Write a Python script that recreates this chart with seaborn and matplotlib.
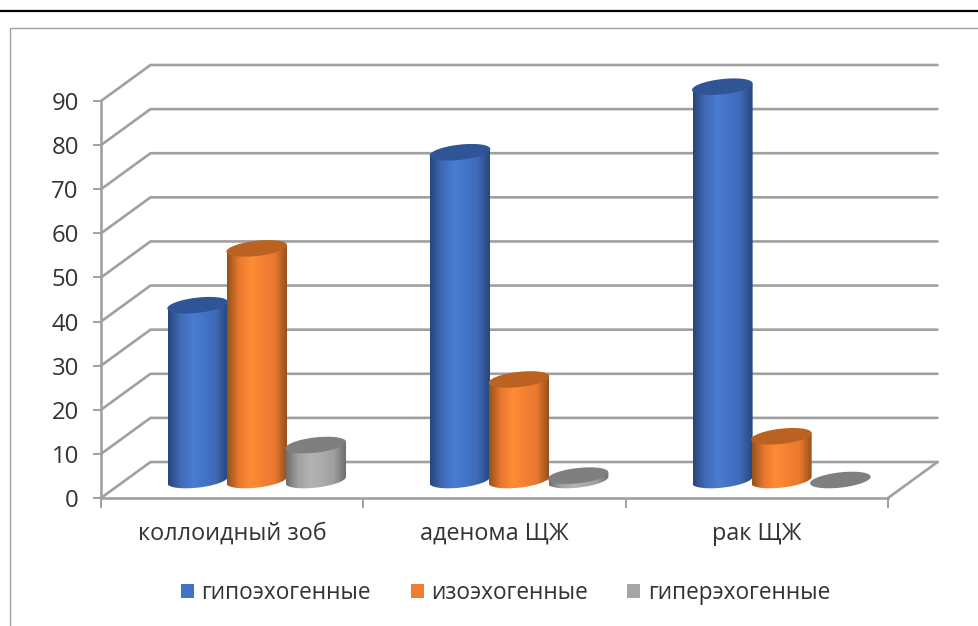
import numpy as np
import pandas as pd
import matplotlib
matplotlib.use("Agg")
import matplotlib.pyplot as plt
import seaborn as sns
from matplotlib.colors import LinearSegmentedColormap
from matplotlib.lines import Line2D
from matplotlib.patches import Patch, Polygon
from matplotlib.transforms import IdentityTransform

categories = ["коллоидный зоб", "аденома ЩЖ", "рак ЩЖ"]
series_names = ["гипоэхогенные", "изоэхогенные", "гиперэхогенные"]
hypo = [40, 75, 90]
iso = [53, 23, 10]
hyper = [8, 1, 0]
y_ticks = list(range(0, 100, 10))

legend_colors = ["#4472c4", "#ed7d31", "#a5a5a5"]
side_colors = [["#27467c", "#3f69b5", "#4a7cd2", "#4474c8", "#3f69b5", "#27467c"],
               ["#96501c", "#e9792e", "#ff8b36", "#f48133", "#e9792e", "#96501c"],
               ["#6e6e6e", "#a0a0a0", "#b3b3b3", "#ababab", "#a0a0a0", "#6e6e6e"]]
top_colors = ["#2f5597", "#bb6222", "#7f7f7f"]
GRID = "#a0a0a0"
TEXT = "#333333"

sns.set_style("white")
plt.rcParams["font.family"] = ["Open Sans", "DejaVu Sans"]

W, H = 979, 626
fig = plt.figure(figsize=(W / 100, H / 100), dpi=100, facecolor="white")


def axes_px(left, right, top, bottom, **kw):
    return fig.add_axes([left / W, 1 - bottom / H, (right - left) / W, (bottom - top) / H], **kw)


df = pd.DataFrame({
    "category": categories * 3,
    "series": np.repeat(series_names, 3),
    "value": hypo + iso + hyper,
})

# front plane: axis, ticks, labels, floor and wall lines
ax = axes_px(101, 888, 101, 498)
sns.barplot(data=df, x="category", y="value", hue="series", order=categories,
            hue_order=series_names, ax=ax, alpha=0, legend=False)
ax.set_xlim(-0.5, 2.5)
ax.set_ylim(0, 90)
ax.set_xlabel("")
ax.set_ylabel("")
ax.patch.set_alpha(0)
for s in ["top", "right"]:
    ax.spines[s].set_visible(False)
for s in ["left", "bottom"]:
    ax.spines[s].set_color(GRID)
    ax.spines[s].set_linewidth(1.9)
ax.set_yticks(y_ticks)
ax.tick_params(axis="y", left=True, length=6, width=1.4, color=GRID, labelsize=17.2,
               labelcolor=TEXT, pad=10)
ax.set_xticks([-0.5, 0.5, 1.5, 2.5], labels=["", "", "", ""])
ax.set_xticks([0, 1, 2], labels=categories, minor=True)
ax.tick_params(axis="x", which="major", bottom=True, length=7, width=1.4, color=GRID)
ax.tick_params(axis="x", which="minor", bottom=False, length=0, labelsize=16.8,
               labelcolor=TEXT, pad=17)

dx = 49.5 / 787 * 3
dy = 36 / 397 * 90
for v in y_ticks:
    ax.plot([-0.5, -0.5 + dx, 2.5 + dx], [v, v + dy, v + dy], color=GRID, lw=1.9,
            clip_on=False, solid_joinstyle="miter", zorder=1)
ax.plot([2.5, 2.5 + dx], [0, dy], color=GRID, lw=1.9, clip_on=False, zorder=1)

# mid-depth plane: cylinders on top of a regular seaborn bar chart
bx = axes_px(125.5, 912.5, 480 - 4.37 * 94, 480 + 4.37 * 6)
bx.patch.set_alpha(0)
sns.barplot(data=df, x="category", y="value", hue="series", order=categories,
            hue_order=series_names, palette=legend_colors, width=0.675, gap=0,
            saturation=1, ax=bx, legend=False)
bx.set_xlim(-0.5, 2.5)
bx.set_ylim(-6, 94)
bx.axis("off")

A, B, TILT = 30.5, 7.6, np.deg2rad(6.5)


def ellipse_pts(cx, cy, t):
    x = A * np.cos(t) * np.cos(TILT) - B * np.sin(t) * np.sin(TILT)
    y = A * np.cos(t) * np.sin(TILT) + B * np.sin(t) * np.cos(TILT)
    return np.column_stack([cx + x, cy + y])


t_right = np.arctan2(-B * np.sin(TILT), A * np.cos(TILT))
t_all = np.linspace(0, 2 * np.pi, 120)
z = 5
items = []
for s, container in enumerate(bx.containers):
    for bar in container:
        items.append((bar.get_x(), s, bar))
for _, s, bar in sorted(items, key=lambda it: it[0]):
    x0, wd, val = bar.get_x(), bar.get_width(), bar.get_height()
    bar.set_visible(False)
    cx, cy0 = bx.transData.transform((x0 + wd / 2, 0))
    _, cy1 = bx.transData.transform((x0, val))
    lower = np.linspace(t_right - np.pi, t_right, 50)
    body = np.vstack([ellipse_pts(cx, cy0, lower),
                      ellipse_pts(cx, cy1, np.array([t_right, t_right + np.pi]))])
    if val > 0:
        poly = Polygon(body, closed=True, transform=IdentityTransform(), fc="none", ec="none")
        bx.add_patch(poly)
        cmap = LinearSegmentedColormap.from_list("side", side_colors[s])
        im = bx.imshow(np.linspace(0, 1, 128)[None, :], extent=[x0, x0 + wd, -4, val + 4],
                       aspect="auto", cmap=cmap, zorder=z, interpolation="bilinear")
        im.set_clip_path(poly)
    bx.add_patch(Polygon(ellipse_pts(cx, cy1, t_all), closed=True, transform=IdentityTransform(),
                         fc=top_colors[s], ec="none", zorder=z + 1, clip_on=False))
    z += 2
bx.set_xlim(-0.5, 2.5)
bx.set_ylim(-6, 94)

# legend
handles = [Patch(fc=c, ec="none") for c in legend_colors]
fig.legend(handles, series_names, ncol=3, frameon=False, loc="center",
           bbox_to_anchor=(505.5 / W, 1 - 593 / H), fontsize=16.3, labelcolor=TEXT,
           handlelength=0.58, handleheight=0.58, handletextpad=0.32, columnspacing=1.75)

# page rules and chart frame
fig.add_artist(Line2D([0, 1], [1 - 10.5 / H] * 2, color="black", lw=1.6))
fig.add_artist(Line2D([10 / W, 10 / W, 1], [0, 1 - 27.5 / H, 1 - 27.5 / H], color="#a0a0a0", lw=1.0,
                      solid_joinstyle="miter"))

fig.savefig("out.png", dpi=100, facecolor="white")
